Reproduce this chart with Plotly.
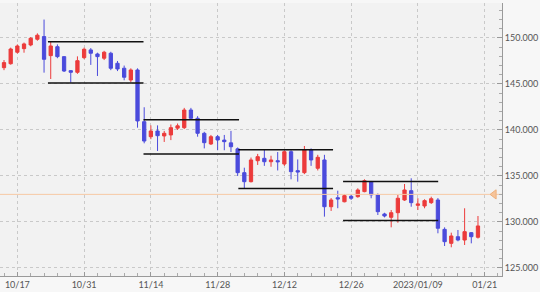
import numpy as np
import pandas as pd
import plotly.graph_objects as go

# ---------------- data ----------------
start_day = "2022-10-13"
dates = pd.bdate_range(start_day, "2023-01-20")

opens = [146.77, 147.20, 148.45, 148.84, 149.24, 149.86, 150.15, 148.08, 149.05, 147.97,
         146.45, 146.27, 147.86, 148.70, 148.26, 147.80, 148.34, 147.25, 146.71, 145.43,
         146.52, 140.90, 139.27, 139.89, 139.35, 139.46, 140.20, 140.25, 142.17, 141.27,
         139.64, 138.48, 139.27, 138.90, 138.60, 137.95, 135.36, 134.38, 136.66, 136.92,
         136.55, 136.66, 136.30, 137.64, 135.58, 135.36, 137.83, 135.84, 136.74, 131.66,
         132.64, 132.20, 132.79, 132.75, 133.30, 134.38, 132.93, 130.87, 130.51, 131.01,
         132.39, 133.40, 131.81, 131.74, 132.10, 132.39, 129.20, 127.68, 128.40, 128.04,
         128.84, 128.34]
highs = [147.60, 148.95, 149.30, 149.50, 150.10, 150.50, 152.00, 149.67, 149.30, 148.00,
         146.50, 148.00, 148.95, 148.90, 148.40, 148.60, 148.50, 147.50, 147.00, 146.70,
         146.70, 142.47, 140.50, 140.50, 139.90, 140.60, 140.70, 142.40, 142.40, 141.50,
         139.80, 139.46, 139.46, 139.46, 139.90, 138.10, 135.90, 137.00, 137.40, 137.83,
         137.20, 137.60, 137.80, 137.80, 136.80, 138.26, 138.00, 137.30, 137.30, 132.60,
         133.40, 133.04, 133.00, 133.66, 134.64, 134.46, 133.10, 131.00, 131.30, 132.93,
         134.13, 134.75, 132.58, 132.47, 132.75, 132.60, 129.42, 128.84, 129.13, 131.49,
         128.90, 130.65]
lows = [146.50, 147.10, 148.30, 148.40, 149.10, 149.70, 146.23, 145.54, 147.80, 146.30,
        145.14, 146.10, 147.70, 147.07, 145.87, 147.60, 146.50, 146.40, 145.40, 145.20,
        140.25, 138.55, 139.00, 137.72, 138.70, 138.90, 140.00, 140.10, 141.10, 139.27,
        138.00, 138.37, 137.80, 137.80, 137.60, 135.00, 133.66, 134.30, 136.20, 136.10,
        136.00, 135.60, 136.10, 134.64, 134.38, 135.20, 136.10, 135.60, 130.58, 131.20,
        131.50, 132.14, 132.40, 132.64, 133.23, 132.58, 130.76, 130.50, 129.42, 129.92,
        132.30, 131.66, 131.30, 131.49, 131.96, 128.77, 127.39, 127.25, 127.90, 127.50,
        127.68, 128.20]
closes = [147.32, 148.80, 149.13, 149.35, 149.97, 150.30, 147.68, 149.13, 147.97, 146.41,
          146.27, 147.53, 148.77, 148.34, 147.97, 148.45, 146.71, 146.63, 145.73, 146.52,
          140.98, 138.80, 139.89, 139.38, 139.64, 140.25, 140.45, 142.17, 141.27, 139.64,
          138.62, 139.27, 138.91, 138.73, 138.18, 135.36, 134.38, 136.74, 137.10, 136.55,
          136.74, 136.55, 137.64, 135.47, 135.43, 137.83, 136.74, 137.03, 131.66, 132.39,
          132.50, 132.86, 132.58, 133.48, 134.49, 132.95, 131.12, 130.65, 131.01, 132.58,
          133.48, 132.10, 131.96, 132.32, 132.53, 129.32, 127.86, 128.48, 128.04, 128.95,
          128.40, 129.57]

# trading-range boxes (start / end time, upper level, lower level)
range_start = ["2022-10-21 14:00", "2022-11-10 21:30", "2022-12-01 02:30", "2022-12-22 19:00"]
range_end = ["2022-11-10 21:30", "2022-12-01 05:00", "2022-12-21 07:00", "2023-01-12 01:00"]
range_high = [149.60, 141.10, 137.85, 134.40]
range_low = [145.10, 137.40, 133.65, 130.15]

ref_level = 133.0
ref_marker_time = "2023-01-24 10:00"

tick_dates = ["2022-10-17", "2022-10-31", "2022-11-14", "2022-11-28", "2022-12-12",
              "2022-12-26", "2023-01-09", "2023-01-21"]
tick_labels = ["10/17", "10/31", "11/14", "11/28", "12/12", "12/26", "2023/01/09", "01/21"]


def bpos(ts):
    t = pd.Timestamp(ts)
    frac = (t - t.normalize()) / pd.Timedelta(days=1)
    return float(np.busday_count(start_day, t.date())) + frac


xpos = [bpos(d) for d in dates]
tick_pos = [bpos(d) for d in tick_dates]

UP = "#ec3b3b"
DOWN = "#4b4bdc"

fig = go.Figure()
fig.add_trace(go.Candlestick(
    x=xpos, open=opens, high=highs, low=lows, close=closes,
    increasing=dict(line=dict(color=UP, width=1), fillcolor=UP),
    decreasing=dict(line=dict(color=DOWN, width=1), fillcolor=DOWN),
    whiskerwidth=0, showlegend=False, hoverinfo="skip"))

# reference level line
fig.add_trace(go.Scatter(x=[-5, 80], y=[ref_level, ref_level], mode="lines",
                         line=dict(color="#f6c9a4", width=1), showlegend=False, hoverinfo="skip"))
fig.add_trace(go.Scatter(x=[bpos(ref_marker_time)], y=[ref_level], mode="markers",
                         marker=dict(symbol="triangle-left", size=8, color="#f6c49a",
                                     line=dict(color="#eeb07c", width=1)),
                         showlegend=False, hoverinfo="skip"))

# range lines
lx, ly = [], []
for s, e, hi, lo in zip(range_start, range_end, range_high, range_low):
    xs, xe = bpos(s), bpos(e)
    lx += [xs, xe, None, xs, xe, None]
    ly += [hi, hi, None, lo, lo, None]
fig.add_trace(go.Scatter(x=lx, y=ly, mode="lines", line=dict(color="#111111", width=1.5),
                         showlegend=False, hoverinfo="skip", connectgaps=False))

fig.update_layout(
    width=540, height=292,
    margin=dict(l=0, r=38, t=3, b=16),
    plot_bgcolor="#f2f2f2", paper_bgcolor="#f7f7f7",
    font=dict(family="Lato", size=9, color="#555555"),
    showlegend=False,
    xaxis=dict(
        range=[-0.6, 74.6], rangeslider=dict(visible=False),
        tickmode="array", tickvals=tick_pos, ticktext=tick_labels,
        ticks="inside", ticklen=4, tickcolor="#999999",
        minor=dict(dtick=2, tick0=0, ticks="inside", ticklen=3, tickcolor="#aaaaaa", showgrid=False),
        showgrid=True, gridcolor="#c9c9c9", griddash="dot", gridwidth=1,
        showline=True, linecolor="#9a9a9a", linewidth=1, zeroline=False,
        tickfont=dict(size=9, color="#555555")),
    yaxis=dict(
        side="right", range=[124.13, 153.8],
        tick0=125, dtick=5, tickformat=".3f",
        ticks="inside", ticklen=5, tickcolor="#999999",
        minor=dict(dtick=1, ticks="inside", ticklen=3, tickcolor="#aaaaaa", showgrid=False),
        showgrid=True, gridcolor="#c9c9c9", griddash="dot", gridwidth=1,
        showline=True, linecolor="#9a9a9a", linewidth=1, zeroline=False,
        tickfont=dict(size=9, color="#555555")),
)

fig.write_html("out.html")
